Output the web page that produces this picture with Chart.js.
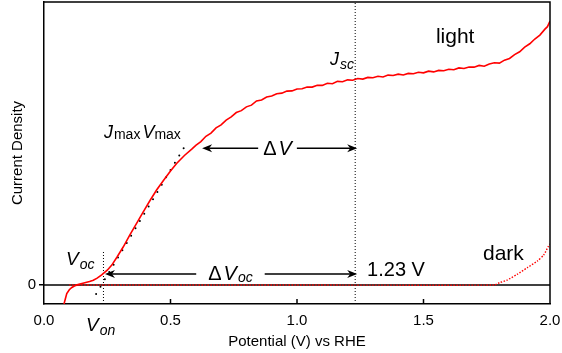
<!DOCTYPE html>
<html>
<head>
<meta charset="utf-8">
<script src="https://cdn.jsdelivr.net/npm/chart.js@4.4.1/dist/chart.umd.min.js"></script>
<style>
  html, body { margin: 0; padding: 0; background: #fff; }
</style>
</head>
<body>
<canvas id="jvChart" width="562" height="353"></canvas>
<script>
// Light current (potential V vs RHE, current density in arbitrary units)
const lightV = [0.079, 0.084, 0.09, 0.10, 0.11, 0.12, 0.134, 0.15, 0.165, 0.18, 0.195, 0.21, 0.228, 0.25, 0.268, 0.29,
  0.313, 0.34, 0.366, 0.39, 0.419, 0.445, 0.472, 0.50, 0.524, 0.555, 0.584,
  0.60, 0.62, 0.64, 0.66, 0.68, 0.70, 0.72, 0.74, 0.76, 0.78, 0.80, 0.82, 0.84, 0.86, 0.88, 0.90, 0.92, 0.94, 0.96, 0.98,
  1.00, 1.02, 1.04, 1.06, 1.08, 1.10, 1.12, 1.14, 1.16, 1.18, 1.20, 1.22, 1.24, 1.26, 1.28, 1.30, 1.32, 1.34, 1.36, 1.38,
  1.40, 1.42, 1.44, 1.46, 1.48, 1.50, 1.52, 1.54, 1.56, 1.58, 1.60, 1.62, 1.64, 1.66, 1.68, 1.70, 1.72, 1.74, 1.76, 1.78,
  1.80, 1.82, 1.84, 1.86, 1.88, 1.90, 1.92, 1.94, 1.96, 1.98, 1.99, 2.00];
const lightJ = [-1.0, -0.75, -0.45, -0.25, -0.13, -0.05, 0.02, 0.08, 0.13, 0.18, 0.25, 0.36, 0.53, 0.78, 1.05, 1.5,
  2.0, 2.65, 3.25, 3.8, 4.45, 5.0, 5.5, 6.0, 6.4, 6.82, 7.15,
  7.35, 7.55, 7.83, 8.0, 8.27, 8.43, 8.68, 8.85, 9.08, 9.18, 9.38, 9.47, 9.69, 9.74, 9.9, 9.95, 10.07, 10.1, 10.21, 10.22,
  10.32, 10.33, 10.42, 10.42, 10.52, 10.51, 10.62, 10.6, 10.72, 10.7, 10.8, 10.78, 10.87, 10.84, 10.93, 10.91, 10.99, 10.95, 11.05, 11.03,
  11.1, 11.06, 11.14, 11.12, 11.2, 11.17, 11.26, 11.22, 11.3, 11.28, 11.36, 11.33, 11.43, 11.4, 11.48, 11.47, 11.56, 11.52, 11.64, 11.7,
  11.68, 11.84, 11.93, 12.13, 12.28, 12.52, 12.7, 12.95, 13.16, 13.47, 13.6, 13.9];

// Dark current
const darkV = [0.10, 1.0, 1.78, 1.80, 1.83, 1.87, 1.91, 1.95, 1.975, 1.993, 2.0];
const darkJ = [0, 0, 0, 0.12, 0.26, 0.56, 0.91, 1.26, 1.58, 2.02, 2.16];

// Tangent at the max power point
const tangentV = [0.206, 0.564];
const tangentJ = [-0.47, 7.47];

// Axis limits and ticks
const xTicks = [0, 0.5, 1.0, 1.5, 2.0];
const yTicks = [0];
const xMin = 0, xMax = 2.0, yMin = -1, yMax = 14.9;

// Key potentials
const vRedox = 1.23;
const vOn = 0.235;
const vMaxPt = 0.625;
const vOcPt = 0.241;

const FONT = '"Liberation Sans", Arial, Helvetica, sans-serif';

function pts(xs, ys) {
  return xs.map((x, i) => ({ x: x, y: ys[i] }));
}

// draws a sequence of text parts on one baseline, left aligned at x
function drawRich(ctx, parts, x, y, align) {
  let w = 0;
  parts.forEach(p => { ctx.font = p.font; w += ctx.measureText(p.t).width + (p.gap || 0); });
  let cx = align === 'center' ? x - w / 2 : x;
  parts.forEach(p => {
    ctx.font = p.font;
    ctx.fillText(p.t, cx, y + (p.dy || 0));
    cx += ctx.measureText(p.t).width + (p.gap || 0);
  });
  return { left: align === 'center' ? x - w / 2 : x, width: w };
}

function arrowHead(ctx, tipX, y, dir) {
  ctx.beginPath();
  ctx.moveTo(tipX, y);
  ctx.lineTo(tipX + dir * 10, y - 4);
  ctx.lineTo(tipX + dir * 7, y);
  ctx.lineTo(tipX + dir * 10, y + 4);
  ctx.closePath();
  ctx.fill();
}

function dimArrow(ctx, x1, x2, y, gapL, gapR) {
  ctx.beginPath();
  ctx.moveTo(x1 + 7, y); ctx.lineTo(gapL, y);
  ctx.moveTo(gapR, y); ctx.lineTo(x2 - 7, y);
  ctx.stroke();
  arrowHead(ctx, x1, y, 1);
  arrowHead(ctx, x2, y, -1);
}

const notesPlugin = {
  id: 'notes',
  afterDraw(chart) {
    const ctx = chart.ctx;
    const xs = chart.scales.x, ys = chart.scales.y;
    const area = chart.chartArea;
    const px = v => xs.getPixelForValue(v);
    const py = v => ys.getPixelForValue(v);
    ctx.save();
    ctx.strokeStyle = '#000';
    ctx.fillStyle = '#000';
    // top and right frame
    ctx.lineWidth = 1.5;
    ctx.beginPath();
    ctx.moveTo(area.left, area.top); ctx.lineTo(area.right, area.top); ctx.lineTo(area.right, area.bottom);
    ctx.stroke();
    // inward x ticks
    xTicks.forEach(v => {
      if (v === xMin || v === xMax) return;
      ctx.beginPath();
      ctx.moveTo(px(v), area.bottom); ctx.lineTo(px(v), area.bottom - 5);
      ctx.stroke();
    });

    ctx.textBaseline = 'alphabetic';
    ctx.textAlign = 'left';
    const big = '21px ' + FONT, bigIt = 'italic 19px ' + FONT, subIt = 'italic 14px ' + FONT;

    drawRich(ctx, [{ t: 'light', font: big }], px(1.549), py(12.74), 'left');
    drawRich(ctx, [{ t: 'dark', font: big }], px(1.735), py(1.32), 'left');
    drawRich(ctx, [{ t: '1.23 V', font: '20px ' + FONT }], px(1.277), py(0.5), 'left');
    drawRich(ctx, [{ t: 'J', font: 'italic 18px ' + FONT, gap: 1 }, { t: 'sc', font: subIt, dy: 4 }], px(1.13), py(11.58), 'left');
    drawRich(ctx, [
      { t: 'J', font: 'italic 18px ' + FONT, gap: 1 }, { t: 'max', font: '14px ' + FONT, dy: 1, gap: 2 },
      { t: 'V', font: 'italic 18px ' + FONT }, { t: 'max', font: '14px ' + FONT, dy: 1 }
    ], px(0.237), py(7.76), 'left');
    drawRich(ctx, [{ t: 'V', font: bigIt, gap: 1 }, { t: 'oc', font: subIt, dy: 4 }], px(0.087), py(1.03), 'left');
    drawRich(ctx, [{ t: 'V', font: bigIt, gap: 1 }, { t: 'on', font: subIt, dy: 4 }], px(0.166), py(-2.42), 'left');

    // Delta V arrow
    ctx.lineWidth = 1.3;
    let yA = py(7.2);
    ctx.textBaseline = 'middle';
    let lab = drawRich(ctx, [{ t: '\u0394', font: '20px ' + FONT, gap: 2 }, { t: 'V', font: 'italic 20px ' + FONT }], px(0.923), yA + 1, 'center');
    dimArrow(ctx, px(vMaxPt), px(vRedox) + 2, yA, lab.left - 5, lab.left + lab.width + 5);

    // Delta Voc arrow
    yA = py(0.58);
    lab = drawRich(ctx, [{ t: '\u0394', font: '20px ' + FONT, gap: 2 }, { t: 'V', font: 'italic 20px ' + FONT, gap: 1 },
      { t: 'oc', font: subIt, dy: 4 }], px(0.737), yA, 'center');
    dimArrow(ctx, px(vOcPt), px(vRedox) + 2, yA, lab.left - 12, lab.left + lab.width + 12);
    ctx.restore();
  }
};

const ctx = document.getElementById('jvChart').getContext('2d');
const jvChart = new Chart(ctx, {
  type: 'line',
  data: {
    datasets: [{
      label: 'light',
      data: pts(lightV, lightJ),
      borderColor: '#ff0000',
      borderWidth: 1.6,
      pointRadius: 0,
      tension: 0
    }, {
      label: 'dark',
      data: pts(darkV, darkJ),
      borderColor: '#ff0000',
      borderWidth: 1.4,
      borderDash: [1.5, 1.5],
      pointRadius: 0,
      tension: 0.2
    }, {
      label: 'tangent',
      data: pts(tangentV, tangentJ),
      borderColor: '#000',
      borderWidth: 2,
      borderCapStyle: 'round',
      borderDash: [0, 8.5],
      pointRadius: 0
    }, {
      label: 'zero',
      data: pts([xMin, xMax], [0, 0]),
      borderColor: '#000',
      borderWidth: 1.5,
      pointRadius: 0
    }, {
      label: 'redox',
      data: pts([vRedox, vRedox], [yMin, yMax]),
      borderColor: '#000',
      borderWidth: 1,
      borderDash: [1, 2],
      pointRadius: 0
    }, {
      label: 'onset',
      data: pts([vOn, vOn], [yMin, 1.84]),
      borderColor: '#000',
      borderWidth: 1,
      borderDash: [1, 2],
      pointRadius: 0
    }]
  },
  options: {
    responsive: false,
    animation: false,
    devicePixelRatio: 1,
    layout: { padding: { top: 2, right: 12, left: 0, bottom: 0 } },
    plugins: { legend: { display: false }, tooltip: { enabled: false } },
    scales: {
      x: {
        type: 'linear',
        min: xMin,
        max: xMax,
        afterBuildTicks: s => { s.ticks = xTicks.map(v => ({ value: v })); },
        afterFit: s => { s.height = 49; s.paddingLeft = 0; s.paddingRight = 0; },
        ticks: {
          color: '#000',
          font: { family: FONT, size: 15 },
          padding: 8,
          maxRotation: 0,
          callback: v => v.toFixed(1)
        },
        grid: { drawOnChartArea: false, drawTicks: false },
        border: { color: '#000', width: 1.5 },
        title: {
          display: true,
          text: 'Potential (V) vs RHE',
          color: '#000',
          font: { family: FONT, size: 15 },
          padding: { top: 0, bottom: 2 }
        }
      },
      y: {
        type: 'linear',
        min: yMin,
        max: yMax,
        afterBuildTicks: s => { s.ticks = yTicks.map(v => ({ value: v })); },
        afterFit: s => { s.width = 44; s.paddingTop = 0; s.paddingBottom = 0; },
        ticks: {
          color: '#000',
          font: { family: FONT, size: 15 },
          padding: 3
        },
        grid: { drawOnChartArea: false, tickLength: 5, color: '#000', lineWidth: 1.5 },
        border: { color: '#000', width: 1.5 },
        title: {
          display: true,
          text: 'Current Density',
          color: '#000',
          font: { family: FONT, size: 15 },
          padding: { top: 9, bottom: 0 }
        }
      }
    }
  },
  plugins: [notesPlugin]
});
</script>
</body>
</html>
